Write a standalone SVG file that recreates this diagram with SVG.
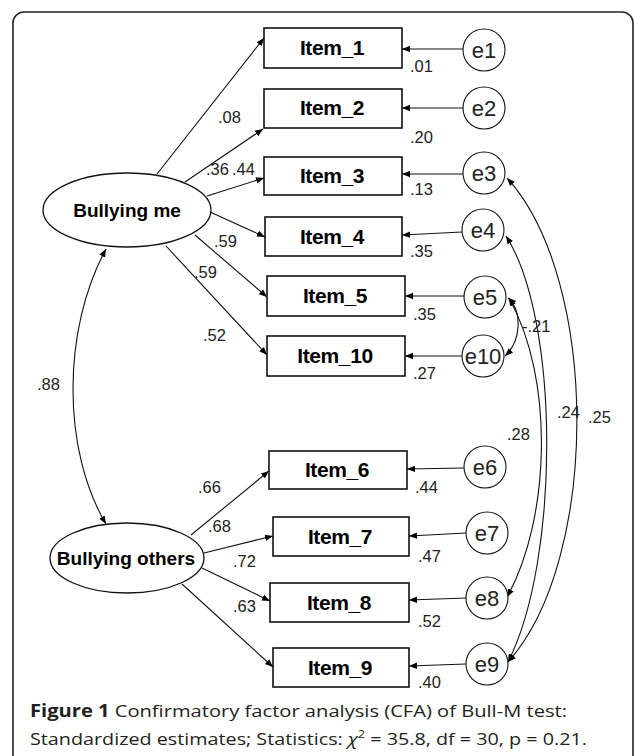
<svg xmlns="http://www.w3.org/2000/svg" width="634" height="756" viewBox="0 0 634 756">
<style>
.box{fill:#fff;stroke:#111;stroke-width:1.6}
.lat{fill:#fff;stroke:#111;stroke-width:1.3}
.err{fill:#fff;stroke:#111;stroke-width:1.1}
.ln{fill:none;stroke:#111;stroke-width:1.1}
.it{font-family:"Liberation Sans",Arial,sans-serif;font-weight:bold;font-size:21px;letter-spacing:-0.4px;fill:#000;text-anchor:middle}
.lt{font-family:"Liberation Sans",Arial,sans-serif;font-weight:bold;font-size:19px;fill:#000;text-anchor:middle}
.et{font-family:"Liberation Sans",Arial,sans-serif;font-size:22px;fill:#222;text-anchor:middle}
.nm{font-family:"Liberation Sans",Arial,sans-serif;font-size:16.5px;fill:#222}
.cap{font-family:"Open Sans","Liberation Sans",Arial,sans-serif;font-size:17px;fill:#231f20}
</style>
<defs>
<marker id="ar" markerUnits="userSpaceOnUse" markerWidth="10" markerHeight="8" refX="8" refY="4" orient="auto-start-reverse">
<path d="M0,0.8 L8,4 L0,7.2 Z" fill="#000"/>
</marker>
</defs>
<rect x="13" y="12" width="620" height="770" rx="11" fill="#fff" stroke="#222" stroke-width="1.6"/>

<g id="connectors">
<line class="ln" x1="157" y1="174" x2="264" y2="38" marker-end="url(#ar)"/>
<line class="ln" x1="185" y1="182" x2="263" y2="129" marker-end="url(#ar)"/>
<line class="ln" x1="207" y1="196" x2="264" y2="178" marker-end="url(#ar)"/>
<line class="ln" x1="210" y1="212" x2="265" y2="237" marker-end="url(#ar)"/>
<line class="ln" x1="195" y1="235" x2="267" y2="297" marker-end="url(#ar)"/>
<line class="ln" x1="166" y1="246" x2="267" y2="355" marker-end="url(#ar)"/>
<line class="ln" x1="191" y1="535" x2="269" y2="471" marker-end="url(#ar)"/>
<line class="ln" x1="204" y1="553" x2="273" y2="536" marker-end="url(#ar)"/>
<line class="ln" x1="202" y1="568" x2="270" y2="601" marker-end="url(#ar)"/>
<line class="ln" x1="182" y1="584" x2="273" y2="667" marker-end="url(#ar)"/>
<path class="ln" d="M106,249 C62,330 62,450 106,524" marker-start="url(#ar)" marker-end="url(#ar)"/>
<line class="ln" x1="463" y1="49" x2="402" y2="49" marker-end="url(#ar)"/>
<line class="ln" x1="463" y1="108" x2="402" y2="108" marker-end="url(#ar)"/>
<line class="ln" x1="463" y1="174" x2="402" y2="174" marker-end="url(#ar)"/>
<line class="ln" x1="462" y1="232" x2="402" y2="235" marker-end="url(#ar)"/>
<line class="ln" x1="464" y1="296" x2="405" y2="296" marker-end="url(#ar)"/>
<line class="ln" x1="462" y1="356" x2="405" y2="356" marker-end="url(#ar)"/>
<line class="ln" x1="464" y1="468" x2="407" y2="469" marker-end="url(#ar)"/>
<line class="ln" x1="466" y1="533" x2="409" y2="536" marker-end="url(#ar)"/>
<line class="ln" x1="466" y1="598" x2="409" y2="600" marker-end="url(#ar)"/>
<line class="ln" x1="466" y1="664" x2="409" y2="666" marker-end="url(#ar)"/>
<path class="ln" d="M507,178 C600,280 600,560 508,662" marker-start="url(#ar)" marker-end="url(#ar)"/>
<path class="ln" d="M506,236 C560,320 560,560 508,662" marker-start="url(#ar)" marker-end="url(#ar)"/>
<path class="ln" d="M509,298 C555,380 550,520 507,597" marker-start="url(#ar)" marker-end="url(#ar)"/>
<path class="ln" d="M508,298 C522,310 522,340 505,356" marker-start="url(#ar)" marker-end="url(#ar)"/>
</g>

<g id="labels">
<text class="nm" x="218" y="123">.08</text>
<text class="nm" x="206" y="175">.36</text>
<text class="nm" x="232" y="175">.44</text>
<text class="nm" x="214" y="247">.59</text>
<text class="nm" x="194" y="278">.59</text>
<text class="nm" x="203" y="341">.52</text>
<text class="nm" x="37" y="390">.88</text>
<text class="nm" x="198" y="493">.66</text>
<text class="nm" x="208" y="532">.68</text>
<text class="nm" x="233" y="567">.72</text>
<text class="nm" x="233" y="612">.63</text>
<text class="nm" x="410" y="72">.01</text>
<text class="nm" x="410" y="143">.20</text>
<text class="nm" x="410" y="195">.13</text>
<text class="nm" x="410" y="257">.35</text>
<text class="nm" x="413" y="320">.35</text>
<text class="nm" x="413" y="379">.27</text>
<text class="nm" x="415" y="493">.44</text>
<text class="nm" x="418" y="562">.47</text>
<text class="nm" x="418" y="627">.52</text>
<text class="nm" x="418" y="688">.40</text>
<text class="nm" x="522" y="332">-.21</text>
<text class="nm" x="507" y="440">.28</text>
<text class="nm" x="557" y="418">.24</text>
<text class="nm" x="588" y="423">.25</text>
</g>

<g id="bullying_me"><ellipse class="lat" cx="127" cy="210" rx="84" ry="37"/><text class="lt" x="127" y="217">Bullying me</text></g>
<g id="bullying_others"><ellipse class="lat" cx="127" cy="558" rx="77" ry="35"/><text class="lt" x="126" y="565">Bullying others</text></g>

<g id="item_1"><rect class="box" x="264" y="28" width="138" height="40"/><text class="it" x="332" y="55">Item_1</text></g>
<g id="item_2"><rect class="box" x="264" y="89" width="138" height="39"/><text class="it" x="332" y="115">Item_2</text></g>
<g id="item_3"><rect class="box" x="264" y="157" width="138" height="38"/><text class="it" x="332" y="183">Item_3</text></g>
<g id="item_4"><rect class="box" x="265" y="217" width="137" height="39"/><text class="it" x="332" y="244">Item_4</text></g>
<g id="item_5"><rect class="box" x="267" y="276" width="138" height="40"/><text class="it" x="335" y="303">Item_5</text></g>
<g id="item_10"><rect class="box" x="267" y="336" width="138" height="40"/><text class="it" x="335" y="363">Item_10</text></g>
<g id="item_6"><rect class="box" x="269" y="451" width="138" height="38"/><text class="it" x="337" y="477">Item_6</text></g>
<g id="item_7"><rect class="box" x="273" y="517" width="136" height="39"/><text class="it" x="340" y="544">Item_7</text></g>
<g id="item_8"><rect class="box" x="270" y="583" width="139" height="39"/><text class="it" x="339" y="610">Item_8</text></g>
<g id="item_9"><rect class="box" x="273" y="648" width="136" height="39"/><text class="it" x="340" y="675">Item_9</text></g>

<g id="e1"><circle class="err" cx="484" cy="50" r="21"/><text class="et" x="484" y="58">e1</text></g>
<g id="e2"><circle class="err" cx="484" cy="108" r="21"/><text class="et" x="484" y="116">e2</text></g>
<g id="e3"><circle class="err" cx="484" cy="173" r="21"/><text class="et" x="484" y="181">e3</text></g>
<g id="e4"><circle class="err" cx="483" cy="230" r="21"/><text class="et" x="483" y="238">e4</text></g>
<g id="e5"><circle class="err" cx="485" cy="297" r="21"/><text class="et" x="485" y="305">e5</text></g>
<g id="e10"><circle class="err" cx="483" cy="356" r="21"/><text class="et" x="483" y="364">e10</text></g>
<g id="e6"><circle class="err" cx="485" cy="467" r="21"/><text class="et" x="485" y="475">e6</text></g>
<g id="e7"><circle class="err" cx="487" cy="533" r="21"/><text class="et" x="487" y="541">e7</text></g>
<g id="e8"><circle class="err" cx="487" cy="598" r="21"/><text class="et" x="487" y="606">e8</text></g>
<g id="e9"><circle class="err" cx="487" cy="664" r="21"/><text class="et" x="487" y="672">e9</text></g>

<g id="caption">
<text class="cap" x="30" y="717" textLength="537" lengthAdjust="spacingAndGlyphs"><tspan font-weight="bold">Figure 1</tspan> Confirmatory factor analysis (CFA) of Bull-M test:</text>
<text class="cap" x="30" y="745" textLength="557" lengthAdjust="spacingAndGlyphs">Standardized estimates; Statistics: <tspan font-style="italic">χ</tspan><tspan font-size="11" dy="-7">2</tspan><tspan dy="7"> = 35.8, df = 30, p = 0.21.</tspan></text>
</g>
</svg>
